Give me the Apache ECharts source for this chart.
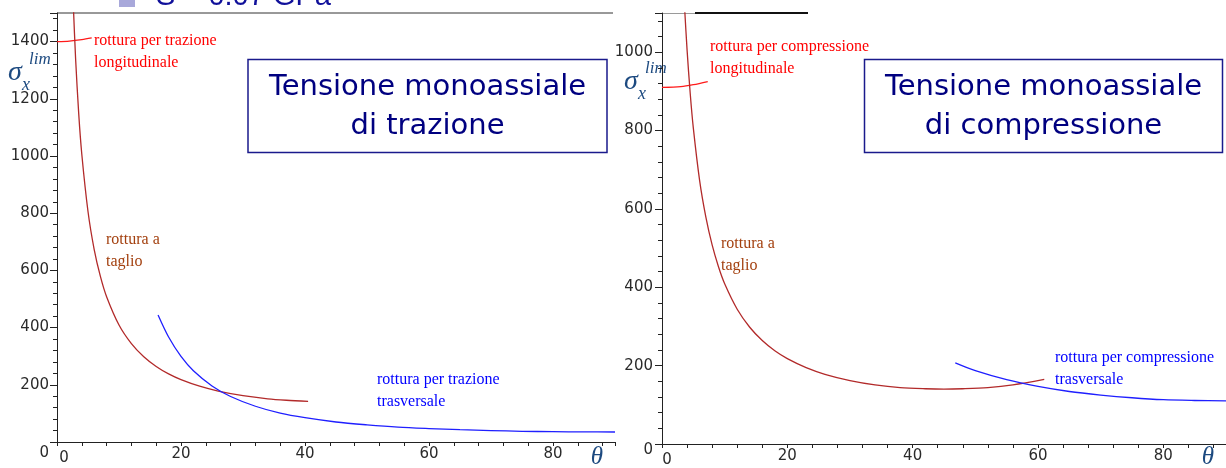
<!DOCTYPE html>
<html>
<head>
<meta charset="utf-8">
<script src="https://cdn.jsdelivr.net/npm/echarts@6/dist/echarts.min.js"></script>
<style>
  html, body { margin: 0; padding: 0; background: #ffffff; }
  #chart { width: 1226px; height: 468px; }
</style>
</head>
<body>
<div id="chart"></div>
<script>
// Failure stress sigma_x^lim (MPa) vs fibre angle theta (deg), max-stress criterion.

// --- Tension ---
const trazioneLongitudinale = [[0, 1400], [2, 1402], [4, 1407], [5.6, 1413]];
const trazioneTaglio = [[2.6, 1545], [3, 1340], [3.5, 1149], [4, 1006], [5, 806], [6, 673], [7, 579], [8, 508],
  [10, 409], [12, 344], [14, 298], [16, 264], [18, 238], [20, 218], [23, 195], [26, 178], [30, 162],
  [34, 151], [37, 146], [40.5, 142]];
const trazioneTrasversale = [[16.3, 444], [18, 367], [20, 299], [22, 249], [25, 196], [28, 159], [32, 125],
  [36, 101], [40, 85], [45, 70], [50, 60], [55, 52], [60, 47], [65, 43], [70, 40], [75, 37.5], [80, 36],
  [85, 35.3], [90, 35]];

// --- Compression ---
const compressioneLongitudinale = [[0, 910], [3, 912], [5, 917], [7.3, 925]];
const compressioneTaglio = [[3.6, 1115], [4, 1006], [4.5, 895], [5, 806], [6, 673], [7, 579], [8, 508], [9, 453],
  [10, 409], [12, 344], [14, 298], [16, 264], [18, 238], [20, 218], [23, 195], [26, 178], [30, 162],
  [34, 151], [38, 144], [42, 141], [45, 140], [48, 141], [52, 144], [56, 151], [61, 165]];
const compressioneTrasversale = [[46.8, 207], [50, 187], [55, 164], [60, 147], [65, 134], [70, 125],
  [75, 118], [80, 113], [85, 111], [90, 110]];

// Tick labels
const thetaTicks = [0, 20, 40, 60, 80];
const sigmaTicksTrazione = [0, 200, 400, 600, 800, 1000, 1200, 1400];
const sigmaTicksCompressione = [0, 200, 400, 600, 800, 1000];

const AXIS_COLOR = '#222222';
const LABEL_COLOR = '#2a2a2a';
const SYMBOL_COLOR = '#1d4a80';
const RED = '#ff1a1a';
const SHEAR = '#b22a2a';
const BLUE = '#1f1fff';

function xAxisFor(gridIndex, zeroShift) {
  return {
    gridIndex, type: 'value', min: 0, max: 90, interval: 20,
    axisLine: { show: true, onZero: false, lineStyle: { color: AXIS_COLOR, width: 1 } },
    axisTick: { show: true, length: 4, lineStyle: { color: AXIS_COLOR } },
    minorTick: { show: true, splitNumber: 5, length: 4, lineStyle: { color: AXIS_COLOR } },
    splitLine: { show: false },
    axisLabel: {
      showMaxLabel: false, margin: 5, color: LABEL_COLOR,
      fontFamily: 'DejaVu Sans', fontSize: 15,
      formatter: v => thetaTicks.includes(v) ? (v === 0 ? '{z|0}' : String(v)) : '',
      rich: { z: { fontFamily: 'DejaVu Sans', fontSize: 15, color: LABEL_COLOR, padding: [4, 0, 0, zeroShift] } }
    }
  };
}

function yAxisFor(gridIndex, max, ticks, margin, zeroDrop) {
  return {
    gridIndex, type: 'value', min: 0, max, interval: 200,
    axisLine: { show: true, onZero: false, lineStyle: { color: AXIS_COLOR, width: 1 } },
    axisTick: { show: true, length: 7, lineStyle: { color: AXIS_COLOR } },
    minorTick: { show: true, splitNumber: 5, length: 4, lineStyle: { color: AXIS_COLOR } },
    splitLine: { show: false },
    axisLabel: {
      showMaxLabel: false, margin, color: LABEL_COLOR,
      fontFamily: 'DejaVu Sans', fontSize: 15,
      formatter: v => ticks.includes(v) ? (v === 0 ? '{z|0}' : String(v)) : '',
      rich: { z: { fontFamily: 'DejaVu Sans', fontSize: 15, color: LABEL_COLOR, padding: [zeroDrop, 0, 0, 0] } }
    }
  };
}

function curve(name, data, color, xi, width) {
  return {
    name, type: 'line', data, xAxisIndex: xi, yAxisIndex: xi,
    showSymbol: false, symbol: 'none', smooth: 0.3, clip: true,
    lineStyle: { color, width: width || 1.3 }, silent: true
  };
}

function serifText(x, y, text, color) {
  return {
    type: 'text', x, y, silent: true,
    style: { text, fill: color, font: '16px "Liberation Serif"', lineHeight: 22,
      textAlign: 'left', textVerticalAlign: 'middle' }
  };
}

function boxGroup(x, y, w, h, line1, line2) {
  const cx = x + w / 2;
  return [
    { type: 'rect', shape: { x, y, width: w, height: h }, silent: true,
      style: { fill: '#ffffff', stroke: '#1a1a8c', lineWidth: 1.5 } },
    { type: 'text', x: cx, y: y + 28, silent: true,
      style: { text: line1, fill: '#000080', font: '29px "DejaVu Sans"', textAlign: 'center', textVerticalAlign: 'middle' } },
    { type: 'text', x: cx, y: y + 67, silent: true,
      style: { text: line2, fill: '#000080', font: '29px "DejaVu Sans"', textAlign: 'center', textVerticalAlign: 'middle' } }
  ];
}

function sigmaLabel(x, y) {
  return [
    { type: 'text', x, y, silent: true,
      style: { text: 'σ', fill: SYMBOL_COLOR, font: 'italic 28px "Liberation Serif"', textAlign: 'left', textVerticalAlign: 'middle' } },
    { type: 'text', x: x + 14, y: y + 12, silent: true,
      style: { text: 'x', fill: SYMBOL_COLOR, font: 'italic 18px "Liberation Serif"', textAlign: 'left', textVerticalAlign: 'middle' } },
    { type: 'text', x: x + 21, y: y - 13, silent: true,
      style: { text: 'lim', fill: SYMBOL_COLOR, font: 'italic 17px "Liberation Serif"', textAlign: 'left', textVerticalAlign: 'middle' } }
  ];
}

function thetaLabel(x, y) {
  return { type: 'text', x, y, silent: true,
    style: { text: 'θ', fill: SYMBOL_COLOR, font: 'italic 25px "Liberation Serif"', textAlign: 'center', textVerticalAlign: 'middle' } };
}

const chart = echarts.init(document.getElementById('chart'), null, { renderer: 'canvas' });

chart.setOption({
  animation: false,
  backgroundColor: '#ffffff',
  grid: [
    { left: 57, top: 13, width: 558, height: 429, containLabel: false },
    { left: 662, top: 13, width: 566, height: 435, containLabel: false }
  ],
  xAxis: [xAxisFor(0, 14), xAxisFor(1, 10)],
  yAxis: [
    yAxisFor(0, 1500, sigmaTicksTrazione, 8, 22),
    yAxisFor(1, 1100, sigmaTicksCompressione, 9, 12)
  ],
  series: [
    curve('trazione longitudinale', trazioneLongitudinale, RED, 0),
    curve('taglio (trazione)', trazioneTaglio, SHEAR, 0),
    curve('trazione trasversale', trazioneTrasversale, BLUE, 0),
    curve('compressione longitudinale', compressioneLongitudinale, RED, 1),
    curve('taglio (compressione)', compressioneTaglio, SHEAR, 1),
    curve('compressione trasversale', compressioneTrasversale, BLUE, 1)
  ],
  graphic: [
    // slide heading, partly above the page edge
    { type: 'rect', shape: { x: 119, y: -10, width: 16, height: 17 }, silent: true, style: { fill: '#a8a8da' } },
    { type: 'text', x: 156, y: 11, silent: true,
      style: { text: 'S = 0.07 GPa', fill: '#10109a', font: '29px "Liberation Sans"', textAlign: 'left', textVerticalAlign: 'bottom' } },

    // frame lines along the top
    { type: 'line', shape: { x1: 57, y1: 13, x2: 613, y2: 13 }, silent: true, style: { stroke: '#333333', lineWidth: 1 } },
    { type: 'line', shape: { x1: 662, y1: 13.5, x2: 695, y2: 13.5 }, silent: true, style: { stroke: '#9a9a9a', lineWidth: 1 } },
    { type: 'line', shape: { x1: 695, y1: 13, x2: 808, y2: 13 }, silent: true, style: { stroke: '#111111', lineWidth: 2 } },

    // tension panel
    ...boxGroup(248, 59.5, 359, 93, 'Tensione monoassiale', 'di trazione'),
    serifText(94, 52, 'rottura per trazione\nlongitudinale', '#ff0000'),
    serifText(106, 251, 'rottura a\ntaglio', '#a3400f'),
    serifText(377, 391, 'rottura per trazione\ntrasversale', '#0000ff'),
    ...sigmaLabel(8, 73),
    thetaLabel(597, 457),

    // compression panel
    ...boxGroup(864.5, 59.5, 358, 93, 'Tensione monoassiale', 'di compressione'),
    serifText(710, 58, 'rottura per compressione\nlongitudinale', '#ff0000'),
    serifText(721, 255, 'rottura a\ntaglio', '#a3400f'),
    serifText(1055, 369, 'rottura per compressione\ntrasversale', '#0000ff'),
    ...sigmaLabel(624, 82),
    thetaLabel(1208, 457)
  ]
});
</script>
</body>
</html>
